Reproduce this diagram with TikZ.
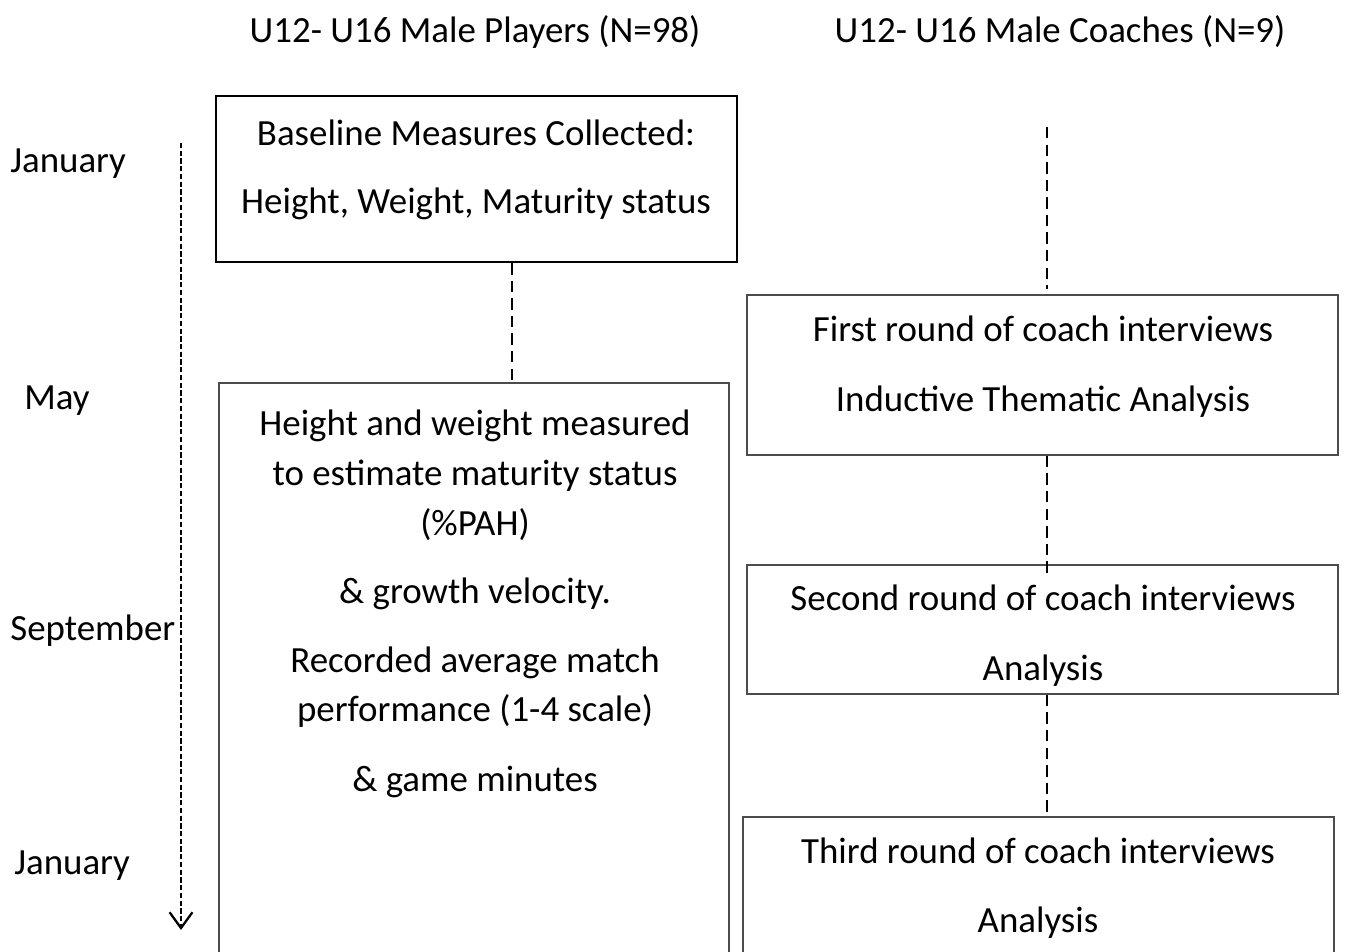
\documentclass[tikz,border=0pt]{standalone}
\usepackage{fontspec}
\setmainfont{Carlito}
\usetikzlibrary{fit,calc,arrows.meta}

\begin{document}
\begin{tikzpicture}[x=0.02cm,y=-0.02cm,font=\fontsize{21}{28.3}\selectfont]
    % `stage' is used for the boxes around each step.
    % `txt' is used for the text inside the boxes (placed by its last line),
    % `month' for the time axis, `link' for the dashed joins between steps.
    \tikzstyle{stage} = [draw=black!70,line width=1pt,inner sep=0pt]
    \tikzstyle{txt} = [align=center,anchor=base,inner sep=0pt]
    \tikzstyle{month} = [anchor=base west,inner sep=0pt]
    \tikzstyle{link} = [line width=1.4pt,dash pattern=on 6.5pt off 3.5pt]
    \tikzstyle{timeline} = [line width=1.3pt,dash pattern=on 3pt off 1.4pt,
      -{Straight Barb[length=9pt,width=13pt,line width=1.3pt]}]
    %
    \useasboundingbox (0,0) rectangle (1346,951);

    % Column heads.
    \node[txt] (players) at (475,42) {U12- U16 Male Players (N=98)};
    \node[txt] (coaches) at (1060,42) {U12- U16 Male Coaches (N=9)};

    % Time axis.
    \node[month] (jan1) at (10,172) {January};
    \node[month] (may) at (24,409) {May};
    \node[month] (sep) at (10,640) {September};
    \node[month] (jan2) at (14,874) {January};
    \coordinate (tstart) at (181,143);
    \coordinate (tend) at (181,930);

    % Players column.
    \node[txt] (t1) at (476,213) {Baseline Measures Collected:\\[10.2pt]
      Height, Weight, Maturity status};
    \node[txt] (t2) at (475,791) {Height and weight measured\\
      to estimate maturity status\\ (\%PAH)\\[10.5pt]
      \& growth velocity.\\[11pt]
      Recorded average match\\ performance (1-4 scale)\\[11pt]
      \& game minutes};

    % Coaches column.
    \node[txt] (t3) at (1043,411) {First round of coach interviews\\[11pt]
      Inductive Thematic Analysis};
    \node[txt] (t4) at (1043,680) {Second round of coach interviews\\[11pt]
      Analysis};
    \node[txt] (t5) at (1038,932) {Third round of coach interviews\\[10.5pt]
      Analysis};

    % Box corners.
    \coordinate (b1a) at (216,96);  \coordinate (b1b) at (737,262);
    \coordinate (b2a) at (219,383); \coordinate (b2b) at (729,956);
    \coordinate (b3a) at (747,295); \coordinate (b3b) at (1338,455);
    \coordinate (b4a) at (747,565); \coordinate (b4b) at (1338,694);
    \coordinate (b5a) at (743,817); \coordinate (b5b) at (1334,956);
    \node[stage,draw=black,line width=1.3pt] (box1) [fit = (b1a) (b1b)] {};
    \node[stage] (box2) [fit = (b2a) (b2b)] {};
    \node[stage] (box3) [fit = (b3a) (b3b)] {};
    \node[stage] (box4) [fit = (b4a) (b4b)] {};
    \node[stage] (box5) [fit = (b5a) (b5b)] {};

    % Dashed joins.
    \coordinate (px) at (512,0);
    \coordinate (ctop) at (1047,127);
    \draw[link] (box1.south -| px) -- (box2.north -| px);
    \draw[link] (ctop) -- ($(box3.north -| ctop)+(0,-5)$);
    \draw[link] (box3.south -| ctop) -- ($(box4.north -| ctop)+(0,12)$);
    \draw[link] (box4.south -| ctop) -- (box5.north -| ctop);
    \draw[timeline] (tstart) -- (tend);
\end{tikzpicture}
\end{document}
